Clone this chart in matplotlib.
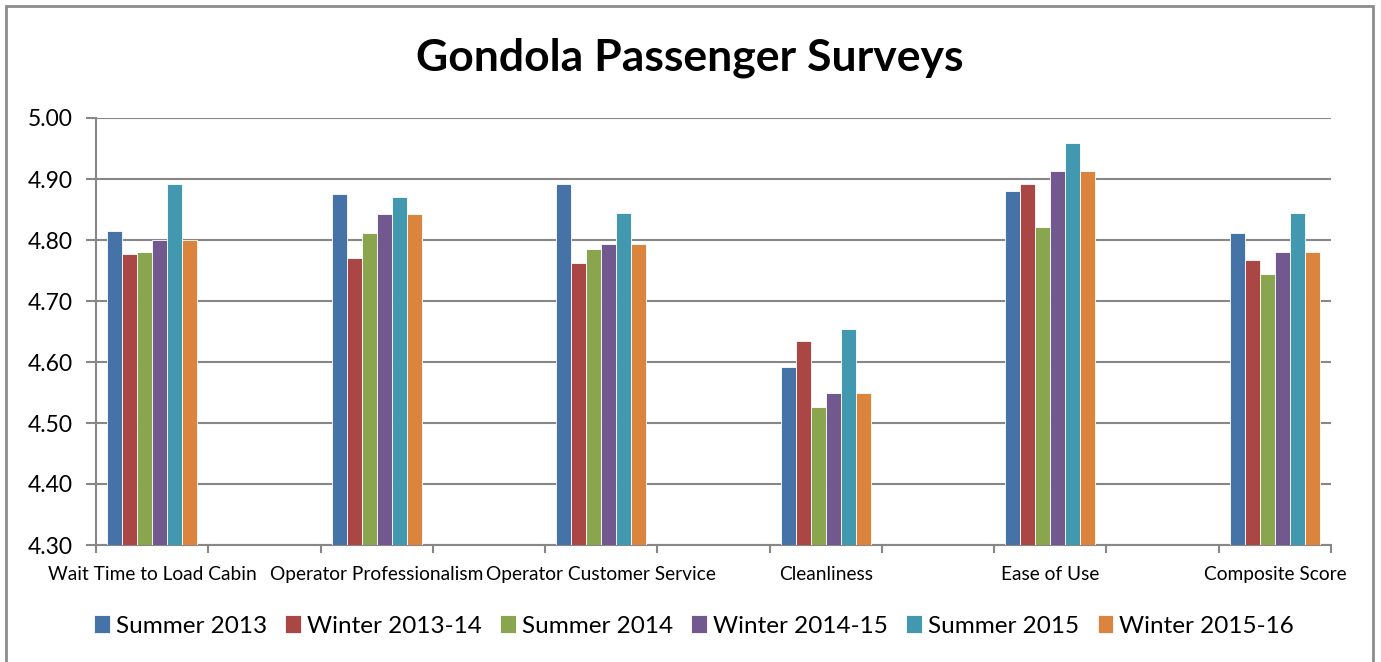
import matplotlib
matplotlib.use("Agg")
import matplotlib.pyplot as plt
from matplotlib.patches import Rectangle
import numpy as np

plt.rcParams['font.family'] = ['Lato', 'DejaVu Sans']

categories = ["Wait Time to Load Cabin", "Operator Professionalism", "Operator Customer Service",
              "Cleanliness", "Ease of Use", "Composite Score"]
series_names = ["Summer 2013", "Winter 2013-14", "Summer 2014", "Winter 2014-15",
                "Summer 2015", "Winter 2015-16"]
summer_2013 = [4.815, 4.876, 4.891, 4.592, 4.881, 4.811]
winter_2013_14 = [4.777, 4.770, 4.763, 4.634, 4.891, 4.767]
summer_2014 = [4.781, 4.811, 4.786, 4.527, 4.821, 4.745]
winter_2014_15 = [4.800, 4.843, 4.793, 4.549, 4.913, 4.780]
summer_2015 = [4.892, 4.871, 4.844, 4.654, 4.959, 4.844]
winter_2015_16 = [4.800, 4.843, 4.793, 4.549, 4.913, 4.780]
series_values = [summer_2013, winter_2013_14, summer_2014, winter_2014_15, summer_2015, winter_2015_16]
colors = ["#4572A7", "#AA4643", "#89A54E", "#71588F", "#4198AF", "#DB843D"]
y_ticks = [4.30, 4.40, 4.50, 4.60, 4.70, 4.80, 4.90, 5.00]

W, H = 1381, 662
fig = plt.figure(figsize=(W / 100, H / 100), dpi=100)
fig.patch.set_facecolor("white")

# outer chart border
fig.patches.append(Rectangle((6 / W, -0.01), (1373 - 6) / W, 1.01 - 6 / H,
                             transform=fig.transFigure, fill=False,
                             edgecolor="#8c8c8c", linewidth=2.0))

ax = fig.add_axes([96 / W, 1 - 545 / H, (1331 - 96) / W, (545 - 118) / H])

n_slots = 2 * len(categories) - 1
cat_pos = np.arange(len(categories)) * 2
nser = len(series_values)
bw = 0.8 / nser
for i, (name, vals, c) in enumerate(zip(series_names, series_values, colors)):
    x = cat_pos + (i - (nser - 1) / 2) * bw
    ax.bar(x, np.array(vals) - 4.30, bottom=4.30, width=bw, color=c, label=name,
           edgecolor="#ffffff", linewidth=0.6, zorder=3)

ax.set_xlim(-0.5, n_slots - 0.5)
ax.set_ylim(4.30, 5.00)
ax.set_yticks(y_ticks)
ax.set_yticklabels([f"{v:.2f}" for v in y_ticks])
ax.yaxis.grid(True, color="#878787", linewidth=1.5, zorder=0)
ax.set_axisbelow(True)

ax.set_xticks(cat_pos)
ax.set_xticklabels(categories)
ax.set_xticks(np.arange(n_slots + 1) - 0.5, minor=True)
ax.tick_params(axis="x", which="major", length=0, pad=15, labelsize=13.8, colors="black")
ax.tick_params(axis="x", which="minor", length=6, width=1.5, color="#878787", direction="out")
ax.tick_params(axis="y", length=7, width=1.5, color="#878787", direction="out", labelsize=16.5, pad=10)

for s in ["top", "right"]:
    ax.spines[s].set_visible(False)
for s in ["left", "bottom"]:
    ax.spines[s].set_color("#878787")
    ax.spines[s].set_linewidth(1.5)

fig.text(690 / W, 1 - 58 / H, "Gondola Passenger Surveys", ha="center", va="center",
         fontsize=32, fontweight="bold")

fig.legend(loc="center", bbox_to_anchor=(694 / W, 1 - 626 / H), ncol=6, frameon=False,
           fontsize=17.5, handlelength=0.65, handleheight=0.75, handletextpad=0.25,
           columnspacing=0.75)

fig.savefig("out.png", dpi=100, facecolor="white")
